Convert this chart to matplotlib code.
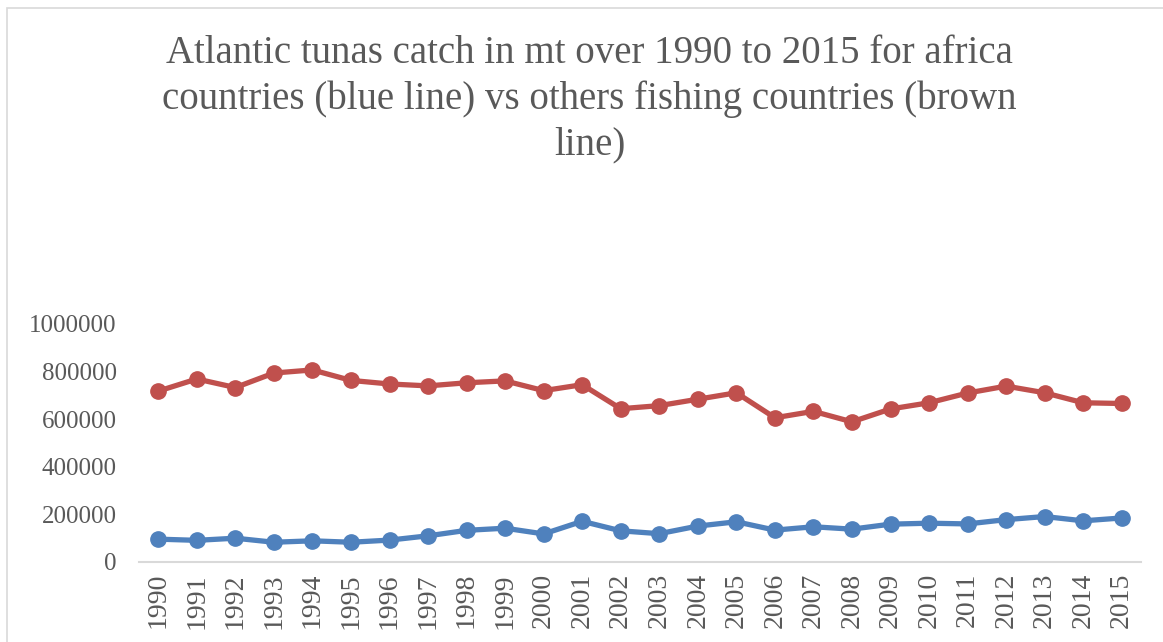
import matplotlib
matplotlib.use("Agg")
from matplotlib import pyplot as plt
from matplotlib.patches import Rectangle

# catch values in mt
years = [str(y) for y in range(1990, 2016)]
africa = [96000, 91000, 100000, 83000, 89000, 83000, 92000, 110000, 133000, 142000,
          118000, 171000, 131000, 119000, 151000, 169000, 134000, 148000, 138000, 159000,
          163000, 160000, 178000, 191000, 173000, 185000]
others = [718000, 769000, 733000, 794000, 807000, 763000, 748000, 740000, 753000, 761000,
          720000, 745000, 644000, 657000, 684000, 711000, 606000, 633000, 589000, 643000,
          669000, 710000, 739000, 711000, 669000, 666000]
yticks = [0, 200000, 400000, 600000, 800000, 1000000]

title = ("Atlantic tunas catch in mt over 1990 to 2015 for africa\n"
         "countries (blue line) vs others fishing countries (brown\nline)")

grey = "#595959"
plt.rcParams["font.family"] = ["Liberation Serif", "DejaVu Serif"]

fig = plt.figure(figsize=(11.63, 6.42), dpi=100)

# light chart border (cut by the image on the right and bottom)
fig.patches.append(Rectangle((7 / 1163, -0.1), 1.2, 1 - 8 / 642 + 0.1,
                             transform=fig.transFigure, fill=False,
                             edgecolor="#D9D9D9", linewidth=1.2))

fig.text(0.507, 0.846, title, ha="center", va="center", fontsize=28,
         color=grey, linespacing=1.3)

ax = fig.add_axes([139 / 1163, 1 - 562 / 642, 1002 / 1163, 238 / 642])
x = list(range(len(years)))
ax.plot(x, africa, color="#4F81BD", linewidth=3.8, marker="o", markersize=11)
ax.plot(x, others, color="#C0504D", linewidth=3.8, marker="o", markersize=11)

ax.set_xlim(-0.5, len(years) - 0.5)
ax.set_ylim(0, 1000000)
ax.set_xticks(x)
ax.set_xticklabels(years, rotation=90, fontsize=20, color=grey)
ax.set_yticks(yticks)
ax.set_yticklabels([str(v) for v in yticks], fontsize=18, color=grey)
ax.tick_params(axis="x", length=0, pad=8)
ax.tick_params(axis="y", length=0, pad=16)

for side in ["top", "right", "left"]:
    ax.spines[side].set_visible(False)
ax.spines["bottom"].set_color("#D9D9D9")
ax.spines["bottom"].set_linewidth(1.5)
for line in ax.lines:
    line.set_clip_on(False)

fig.savefig("out.png", dpi=100)
